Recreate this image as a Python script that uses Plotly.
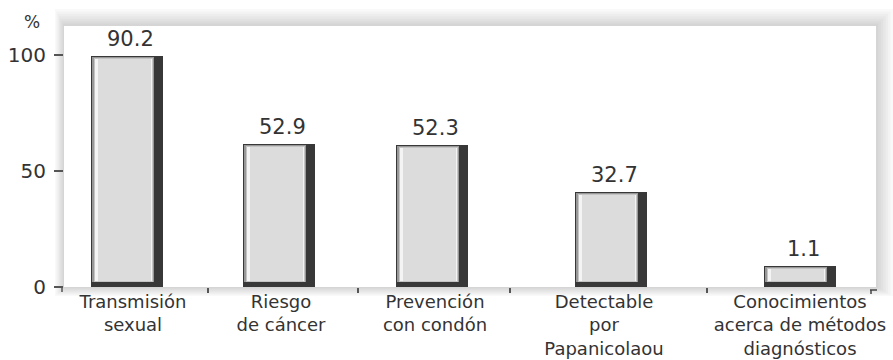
import plotly.graph_objects as go

# ---- data ----
categories = [
    "Transmisión<br>sexual",
    "Riesgo<br>de cáncer",
    "Prevención<br>con condón",
    "Detectable<br>por<br>Papanicolaou",
    "Conocimientos<br>acerca de métodos<br>diagnósticos",
]
values = [90.2, 52.9, 52.3, 32.7, 1.1]
value_labels = ["90.2", "52.9", "52.3", "32.7", "1.1"]
y_tick_values = [0, 50, 100]
y_tick_labels = ["0", "50", "100"]
y_unit = "%"

# ---- layout (horizontal axis runs in pixel-sized units) ----
W, H = 893, 360
M_L, M_R, M_T, M_B = 64, 17, 26, 73
X0, X1 = M_L, W - M_R
PLOT_W = X1 - X0
PLOT_H = H - M_T - M_B
bar_centers = [127, 279, 432, 611, 800]
label_centers = [133, 281, 435, 604, 800]
slot_edges = [208, 358, 510, 707]
BAR_W = 72
AXIS_PX_PER_UNIT = 2.32      # visible percent scale
BAR_PX_PER_UNIT = 2.36       # bar scale
BAR_BASE = -7.7              # bars rise from a short plinth below zero
FONT = "DejaVu Sans"
TEXT = "#333333"


def px_x(p):
    return (p - X0) / PLOT_W


def px_y(p):
    return (H - M_B - p) / PLOT_H


fig = go.Figure()

# percent scale carrier (no visible mark) so the left axis is laid out
fig.add_trace(go.Scatter(
    x=[X0] * len(y_tick_values), y=y_tick_values, mode="markers",
    marker=dict(opacity=0, size=1), hoverinfo="skip", showlegend=False,
))

# bevelled bars: stacked layers (left inset, right inset, bottom inset, top inset, colour) in px
layers = [
    (0, 0, 0, 0, "#383838"),
    (1, 9, 5, 1, "#989898"),
    (2.5, 10, 5, 2, "#c4c4c4"),
    (4, 11, 6, 3, "#f4f4f4"),
    (7, 12, 6, 3, "#dcdcdc"),
]
for li, ri, bi, ti, col in layers:
    base = BAR_BASE + bi / BAR_PX_PER_UNIT
    tops = [v - ti / BAR_PX_PER_UNIT for v in values]
    fig.add_trace(go.Bar(
        x=bar_centers,
        y=[t - base for t in tops],
        base=[base] * len(values),
        width=[BAR_W - li - ri] * len(values),
        offset=[-BAR_W / 2 + li] * len(values),
        marker=dict(color=col, line=dict(width=0)),
        yaxis="y2",
        hoverinfo="skip",
        showlegend=False,
    ))

annotations = []
for xc, v, lab in zip(bar_centers, values, value_labels):
    annotations.append(dict(
        x=xc + 3, y=v, xref="x", yref="y2", text=lab, showarrow=False,
        xanchor="center", yanchor="bottom", yshift=3,
        font=dict(family=FONT, size=21, color=TEXT),
    ))
annotations.append(dict(
    x=px_x(32), y=px_y(22), xref="paper", yref="paper", text=y_unit,
    showarrow=False, xanchor="center", yanchor="middle",
    font=dict(family=FONT, size=17, color=TEXT),
))

shapes = []
# soft frame around the panel (rings with the panel cut out)
ix0, ix1, iy0, iy1 = 0.0, 1.0, 0.0, 1.0
steps = 7
for i in range(1, steps + 1):
    f = i / steps
    ox0, ox1 = px_x(X0 - 9 * f), px_x(X1 + 17 * f)
    oy0, oy1 = px_y(H - M_B + 9 * f), px_y(M_T - 17 * f)
    path = (
        f"M {ox0},{oy0} L {ox1},{oy0} L {ox1},{oy1} L {ox0},{oy1} Z "
        f"M {ix0},{iy0} L {ix1},{iy0} L {ix1},{iy1} L {ix0},{iy1} Z"
    )
    shapes.append(dict(
        type="path", path=path, xref="paper", yref="paper", layer="below",
        fillrule="evenodd", fillcolor="rgba(0,0,0,0.025)", line=dict(width=0),
    ))
# slot separators along the base
for e in slot_edges:
    shapes.append(dict(
        type="line", xref="paper", yref="paper",
        x0=px_x(e), x1=px_x(e), y0=px_y(288), y1=px_y(293),
        line=dict(color="#555555", width=2),
    ))
# corner mark at the right end of the base
shapes.append(dict(type="line", xref="paper", yref="paper",
                   x0=px_x(870), x1=px_x(877), y0=px_y(290), y1=px_y(290),
                   line=dict(color="#444444", width=1.5)))
shapes.append(dict(type="line", xref="paper", yref="paper",
                   x0=px_x(871), x1=px_x(871), y0=px_y(290), y1=px_y(294),
                   line=dict(color="#444444", width=1.5)))
# hook on the zero tick
shapes.append(dict(type="line", xref="paper", yref="paper",
                   x0=px_x(62), x1=px_x(62), y0=px_y(287), y1=px_y(292),
                   line=dict(color="#555555", width=1.5)))

fig.update_layout(
    width=W, height=H,
    margin=dict(l=M_L, r=M_R, t=M_T, b=M_B, pad=0),
    paper_bgcolor="white",
    plot_bgcolor="white",
    barmode="overlay",
    bargap=0,
    showlegend=False,
    font=dict(family=FONT, color=TEXT),
    xaxis=dict(
        range=[X0, X1], tickvals=label_centers, ticktext=categories,
        ticks="", showgrid=False, zeroline=False, showline=False,
        tickfont=dict(family=FONT, size=18, color=TEXT),
        ticklabelstandoff=2, automargin=False, fixedrange=True,
    ),
    yaxis=dict(
        range=[0, PLOT_H / AXIS_PX_PER_UNIT], tickvals=y_tick_values,
        ticktext=y_tick_labels, ticks="outside", ticklen=9, tickwidth=1.5,
        tickcolor="#555555", showgrid=False, zeroline=False, showline=False,
        tickfont=dict(family=FONT, size=20, color=TEXT),
        ticklabelstandoff=4, automargin=False, fixedrange=True,
    ),
    yaxis2=dict(
        range=[BAR_BASE, BAR_BASE + PLOT_H / BAR_PX_PER_UNIT],
        overlaying="y", visible=False, automargin=False, fixedrange=True,
    ),
    annotations=annotations,
    shapes=shapes,
)

fig.write_html("out.html", config={"displayModeBar": False})
